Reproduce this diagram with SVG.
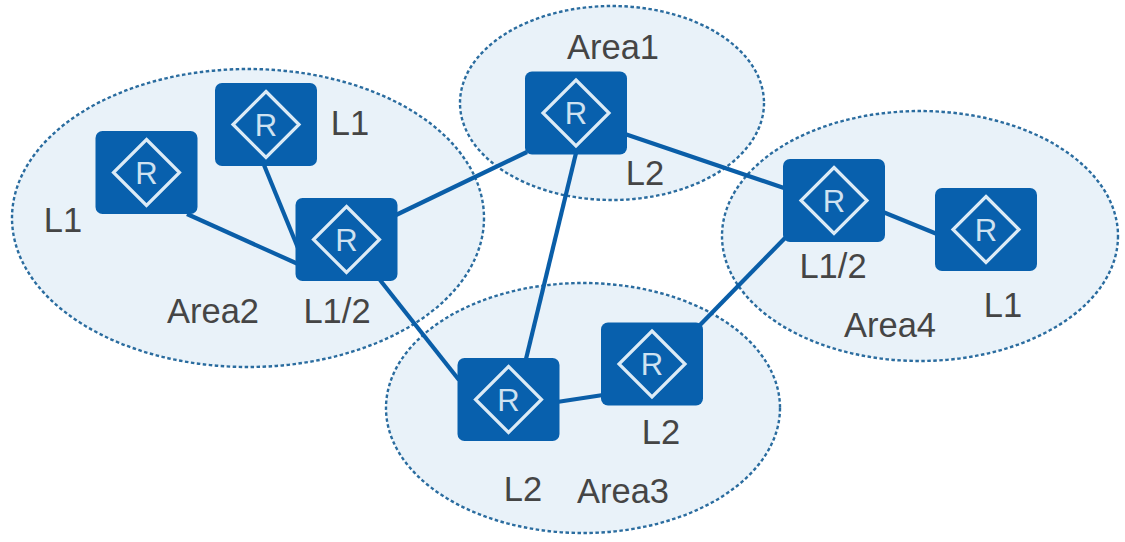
<svg xmlns="http://www.w3.org/2000/svg" xmlns:xlink="http://www.w3.org/1999/xlink" width="1125" height="542" viewBox="0 0 1125 542">
<style>
.area{fill:#e9f2f9;stroke:#2a6c9f;stroke-width:2.4;stroke-dasharray:3.500 2.500}
.link{stroke:#0a5ea8;stroke-width:4.2;fill:none}
.box{fill:#0860ad}
.dia{fill:none;stroke:#dcebf6;stroke-width:3.200}
.r{font-family:"Liberation Sans",Arial,sans-serif;font-size:31px;fill:#cfe2f1;text-anchor:middle}
.t{font-family:"Liberation Sans",Arial,sans-serif;font-size:34.5px;fill:#454545;text-anchor:middle}
</style>
<defs>
<g id="router">
<rect class="box" x="-51" y="-41.500" width="102" height="83" rx="7"/>
<path class="dia" d="M0,-33 L33,0 L0,33 L-33,0 Z"/>
<text class="r" x="0" y="11">R</text>
</g>
</defs>
<rect width="1125" height="542" fill="#fff"/>
<g id="areas">
<ellipse id="area2" class="area" cx="248" cy="218" rx="236" ry="149"/>
<ellipse id="area1" class="area" cx="612" cy="103" rx="152" ry="97"/>
<ellipse id="area4" class="area" cx="920" cy="236" rx="198" ry="125"/>
<ellipse id="area3" class="area" cx="583" cy="408" rx="197" ry="125"/>
</g>
<g id="connectors">
<line class="link" x1="187" y1="214" x2="298" y2="264"/>
<line class="link" x1="264" y1="165" x2="298" y2="248"/>
<line class="link" x1="396" y1="215" x2="527" y2="152"/>
<line class="link" x1="380" y1="280" x2="459" y2="380"/>
<line class="link" x1="576" y1="153" x2="526" y2="359"/>
<line class="link" x1="625" y1="134" x2="784" y2="188"/>
<line class="link" x1="557" y1="402" x2="603" y2="395"/>
<line class="link" x1="700" y1="325" x2="785" y2="238"/>
<line class="link" x1="883" y1="212" x2="937" y2="234"/>
</g>
<g id="node-r1"><use xlink:href="#router" href="#router" x="146.500" y="172.500"/></g>
<g id="node-r2"><use xlink:href="#router" href="#router" x="266" y="124.500"/></g>
<g id="node-r3"><use xlink:href="#router" href="#router" x="346.500" y="239.500"/></g>
<g id="node-r4"><use xlink:href="#router" href="#router" x="576" y="113"/></g>
<g id="node-r5"><use xlink:href="#router" href="#router" x="834" y="200.500"/></g>
<g id="node-r6"><use xlink:href="#router" href="#router" x="986" y="229.500"/></g>
<g id="node-r7"><use xlink:href="#router" href="#router" x="508.500" y="399.500"/></g>
<g id="node-r8"><use xlink:href="#router" href="#router" x="652" y="364"/></g>
<g id="labels">
<text class="t" x="613" y="59">Area1</text>
<text class="t" x="213" y="323">Area2</text>
<text class="t" x="623" y="503">Area3</text>
<text class="t" x="890" y="337">Area4</text>
<text class="t" x="350" y="135">L1</text>
<text class="t" x="63" y="232">L1</text>
<text class="t" x="337" y="323">L1/2</text>
<text class="t" x="645" y="185">L2</text>
<text class="t" x="833" y="278">L1/2</text>
<text class="t" x="1003" y="317">L1</text>
<text class="t" x="661" y="444">L2</text>
<text class="t" x="523" y="501">L2</text>
</g>
</svg>
